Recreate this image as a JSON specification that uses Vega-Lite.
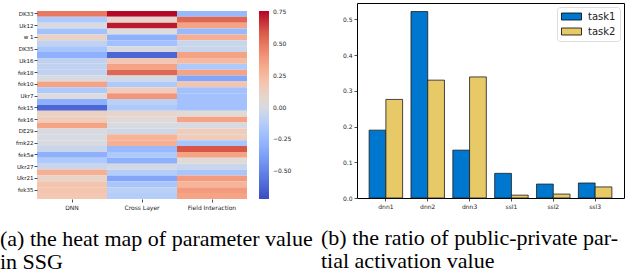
{
  "$schema": "https://vega.github.io/schema/vega-lite/v6.json",
  "padding": {"left": 0, "top": 2, "right": 0, "bottom": 0},
  "background": "white",
  "spacing": 7,
  "config": {
    "view": {"stroke": null},
    "font": "DejaVu Sans",
    "axis": {"labelFont": "DejaVu Sans", "labelColor": "#222", "tickColor": "#222", "tickWidth": 0.8, "grid": false}
  },
  "datasets": {
    "heat": [
      {"row": "DK33", "col": "DNN", "v": 0.5}, {"row": "DK33", "col": "Cross Layer", "v": 0.75}, {"row": "DK33", "col": "Field Interaction", "v": -0.25},
      {"row": "o1", "col": "DNN", "v": -0.15}, {"row": "o1", "col": "Cross Layer", "v": 0.08}, {"row": "o1", "col": "Field Interaction", "v": 0.55},
      {"row": "Uk12", "col": "DNN", "v": 0.0}, {"row": "Uk12", "col": "Cross Layer", "v": 0.72}, {"row": "Uk12", "col": "Field Interaction", "v": 0.35},
      {"row": "o3", "col": "DNN", "v": -0.2}, {"row": "o3", "col": "Cross Layer", "v": 0.02}, {"row": "o3", "col": "Field Interaction", "v": -0.25},
      {"row": "w 1", "col": "DNN", "v": 0.12}, {"row": "w 1", "col": "Cross Layer", "v": -0.3}, {"row": "w 1", "col": "Field Interaction", "v": 0.3},
      {"row": "o5", "col": "DNN", "v": -0.08}, {"row": "o5", "col": "Cross Layer", "v": -0.2}, {"row": "o5", "col": "Field Interaction", "v": -0.05},
      {"row": "DK35", "col": "DNN", "v": -0.18}, {"row": "DK35", "col": "Cross Layer", "v": 0.0}, {"row": "DK35", "col": "Field Interaction", "v": -0.05},
      {"row": "o7", "col": "DNN", "v": -0.3}, {"row": "o7", "col": "Cross Layer", "v": -0.62}, {"row": "o7", "col": "Field Interaction", "v": 0.35},
      {"row": "Uk16", "col": "DNN", "v": -0.08}, {"row": "Uk16", "col": "Cross Layer", "v": 0.18}, {"row": "Uk16", "col": "Field Interaction", "v": 0.25},
      {"row": "o9", "col": "DNN", "v": -0.08}, {"row": "o9", "col": "Cross Layer", "v": 0.35}, {"row": "o9", "col": "Field Interaction", "v": -0.15},
      {"row": "fek18", "col": "DNN", "v": -0.08}, {"row": "fek18", "col": "Cross Layer", "v": 0.55}, {"row": "fek18", "col": "Field Interaction", "v": 0.35},
      {"row": "o11", "col": "DNN", "v": 0.0}, {"row": "o11", "col": "Cross Layer", "v": -0.02}, {"row": "o11", "col": "Field Interaction", "v": -0.35},
      {"row": "fek10", "col": "DNN", "v": 0.35}, {"row": "fek10", "col": "Cross Layer", "v": -0.15}, {"row": "fek10", "col": "Field Interaction", "v": 0.2},
      {"row": "o13", "col": "DNN", "v": -0.15}, {"row": "o13", "col": "Cross Layer", "v": 0.15}, {"row": "o13", "col": "Field Interaction", "v": -0.2},
      {"row": "Ukr7", "col": "DNN", "v": 0.02}, {"row": "Ukr7", "col": "Cross Layer", "v": 0.4}, {"row": "Ukr7", "col": "Field Interaction", "v": -0.2},
      {"row": "o15", "col": "DNN", "v": -0.3}, {"row": "o15", "col": "Cross Layer", "v": -0.1}, {"row": "o15", "col": "Field Interaction", "v": -0.2},
      {"row": "fek15", "col": "DNN", "v": -0.62}, {"row": "fek15", "col": "Cross Layer", "v": -0.15}, {"row": "fek15", "col": "Field Interaction", "v": -0.2},
      {"row": "o17", "col": "DNN", "v": 0.12}, {"row": "o17", "col": "Cross Layer", "v": 0.08}, {"row": "o17", "col": "Field Interaction", "v": 0.05},
      {"row": "fek16", "col": "DNN", "v": 0.15}, {"row": "fek16", "col": "Cross Layer", "v": 0.05}, {"row": "fek16", "col": "Field Interaction", "v": 0.35},
      {"row": "o19", "col": "DNN", "v": 0.35}, {"row": "o19", "col": "Cross Layer", "v": 0.0}, {"row": "o19", "col": "Field Interaction", "v": 0.0},
      {"row": "DE29", "col": "DNN", "v": 0.0}, {"row": "DE29", "col": "Cross Layer", "v": -0.03}, {"row": "DE29", "col": "Field Interaction", "v": 0.15},
      {"row": "o21", "col": "DNN", "v": 0.0}, {"row": "o21", "col": "Cross Layer", "v": 0.28}, {"row": "o21", "col": "Field Interaction", "v": 0.15},
      {"row": "fmk22", "col": "DNN", "v": 0.0}, {"row": "fmk22", "col": "Cross Layer", "v": 0.3}, {"row": "fmk22", "col": "Field Interaction", "v": -0.18},
      {"row": "o23", "col": "DNN", "v": -0.05}, {"row": "o23", "col": "Cross Layer", "v": -0.25}, {"row": "o23", "col": "Field Interaction", "v": 0.6},
      {"row": "fek5a", "col": "DNN", "v": -0.3}, {"row": "fek5a", "col": "Cross Layer", "v": -0.15}, {"row": "fek5a", "col": "Field Interaction", "v": 0.35},
      {"row": "o25", "col": "DNN", "v": -0.15}, {"row": "o25", "col": "Cross Layer", "v": -0.3}, {"row": "o25", "col": "Field Interaction", "v": 0.05},
      {"row": "Ukr27", "col": "DNN", "v": -0.05}, {"row": "Ukr27", "col": "Cross Layer", "v": -0.02}, {"row": "Ukr27", "col": "Field Interaction", "v": -0.05},
      {"row": "o27", "col": "DNN", "v": 0.3}, {"row": "o27", "col": "Cross Layer", "v": -0.12}, {"row": "o27", "col": "Field Interaction", "v": -0.18},
      {"row": "Ukr21", "col": "DNN", "v": 0.1}, {"row": "Ukr21", "col": "Cross Layer", "v": -0.35}, {"row": "Ukr21", "col": "Field Interaction", "v": 0.38},
      {"row": "o29", "col": "DNN", "v": 0.2}, {"row": "o29", "col": "Cross Layer", "v": -0.18}, {"row": "o29", "col": "Field Interaction", "v": 0.28},
      {"row": "fek35", "col": "DNN", "v": 0.2}, {"row": "fek35", "col": "Cross Layer", "v": -0.1}, {"row": "fek35", "col": "Field Interaction", "v": 0.38},
      {"row": "o31", "col": "DNN", "v": 0.18}, {"row": "o31", "col": "Cross Layer", "v": -0.12}, {"row": "o31", "col": "Field Interaction", "v": 0.35}
    ],
    "bars": [
      {"cat": "dnn1", "task": "task1", "val": 0.19}, {"cat": "dnn1", "task": "task2", "val": 0.276},
      {"cat": "dnn2", "task": "task1", "val": 0.522}, {"cat": "dnn2", "task": "task2", "val": 0.33},
      {"cat": "dnn3", "task": "task1", "val": 0.134}, {"cat": "dnn3", "task": "task2", "val": 0.339},
      {"cat": "ssl1", "task": "task1", "val": 0.069}, {"cat": "ssl1", "task": "task2", "val": 0.008},
      {"cat": "ssl2", "task": "task1", "val": 0.039}, {"cat": "ssl2", "task": "task2", "val": 0.011},
      {"cat": "ssl3", "task": "task1", "val": 0.042}, {"cat": "ssl3", "task": "task2", "val": 0.031}
    ]
  },
  "hconcat": [
    {
      "width": 210,
      "height": 196,
      "data": {"name": "heat"},
      "mark": {"type": "rect"},
      "encoding": {
        "x": {"field": "col", "type": "nominal", "sort": ["DNN", "Cross Layer", "Field Interaction"],
          "scale": {"paddingInner": 0, "paddingOuter": 0},
          "axis": {"title": null, "labelAngle": 0, "labelFontSize": 6, "tickSize": 3, "domain": false, "labelPadding": 2}},
        "y": {"field": "row", "type": "nominal", "sort": null,
          "scale": {"paddingInner": 0, "paddingOuter": 0.68, "align": 1},
          "axis": {"title": null, "values": ["DK33", "Uk12", "w 1", "DK35", "Uk16", "fek18", "fek10", "Ukr7", "fek15", "fek16", "DE29", "fmk22", "fek5a", "Ukr27", "Ukr21", "fek35"],
            "labelFontSize": 5.5, "labelColor": "#111", "tickSize": 3, "domain": false, "labelPadding": 1, "minExtent": 37, "maxExtent": 37}},
        "color": {"field": "v", "type": "quantitative",
          "scale": {"domain": [-0.72, -0.572, -0.424, -0.276, -0.128, 0.02, 0.168, 0.316, 0.464, 0.612, 0.76],
            "range": ["#3b4cc0", "#5673e0", "#7396f5", "#93b5fe", "#b3cdfb", "#dddcdc", "#f2cbb7", "#f7ac8e", "#ee8468", "#d65244", "#b40426"],
            "interpolate": "rgb"},
          "legend": {"orient": "none", "legendX": 222, "legendY": 8, "direction": "vertical", "gradientLength": 188, "gradientThickness": 10,
            "title": null, "values": [-0.5, -0.25, 0, 0.25, 0.5, 0.75], "format": ".2f", "labelFontSize": 6, "labelOffset": 4, "labelColor": "#222", "gradientStrokeWidth": 0}}
      },
      "title": {"text": ["(a) the heat map of parameter value", "in SSG"], "orient": "bottom", "anchor": "start", "frame": "bounds",
        "font": "Liberation Serif", "fontSize": 22, "fontWeight": "normal", "lineHeight": 23, "offset": 19, "color": "black"}
    },
    {
      "width": 267,
      "height": 195,
      "data": {"name": "bars"},
      "view": {"stroke": "black", "strokeWidth": 1},
      "mark": {"type": "bar", "stroke": "#1a1a1a", "strokeWidth": 0.8},
      "encoding": {
        "x": {"field": "cat", "type": "nominal", "sort": null,
          "scale": {"paddingInner": 0.2, "paddingOuter": 0.29},
          "axis": {"title": null, "labelAngle": 0, "labelFontSize": 6, "labelColor": "#222", "tickSize": 3, "domain": false, "labelPadding": 2}},
        "xOffset": {"field": "task", "type": "nominal"},
        "y": {"field": "val", "type": "quantitative", "scale": {"domain": [0, 0.546], "nice": false},
          "axis": {"title": null, "values": [0, 0.1, 0.2, 0.3, 0.4, 0.5], "format": ".1f", "labelFontSize": 6, "tickSize": 3, "domain": false, "labelPadding": 2, "minExtent": 36, "maxExtent": 36}},
        "color": {"field": "task", "type": "nominal", "scale": {"range": ["#0077cf", "#e8c968"]},
          "legend": {"orient": "top-right", "offset": 4, "title": null, "fillColor": "white", "strokeColor": "#dddddd", "cornerRadius": 3, "padding": 4,
            "symbolType": "M-1,-0.7H3V0.7H-1Z", "symbolSize": 100, "symbolStrokeColor": "black", "symbolStrokeWidth": 0.8, "symbolOpacity": 1,
            "labelFontSize": 10, "labelColor": "#222", "rowPadding": 4, "labelOffset": 16}}
      },
      "title": {"text": ["(b) the ratio of public-private par-", "tial activation value"], "orient": "bottom", "anchor": "start", "frame": "bounds",
        "font": "Liberation Serif", "fontSize": 22, "fontWeight": "normal", "lineHeight": 23, "offset": 19, "color": "black"}
    }
  ]
}
